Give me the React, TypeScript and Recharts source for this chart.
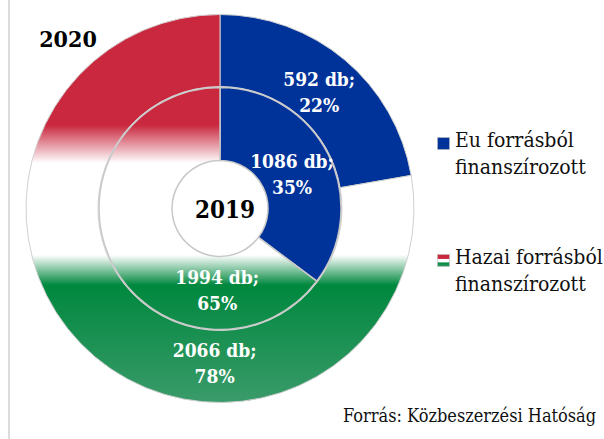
import { PieChart, Pie, Cell, Legend } from "recharts";

// Közbeszerzések finanszírozási forrás szerint (db), 2019 belső gyűrű, 2020 külső gyűrű
const CATEGORIES = ["Eu forrásból finanszírozott", "Hazai forrásból finanszírozott"];
const COUNTS_2019 = [1086, 1994];
const PCT_2019 = [35, 65];
const COUNTS_2020 = [592, 2066];
const PCT_2020 = [22, 78];

const W = 604;
const H = 439;
const CX = 220;
const CY = 208.5;
const R_OUT = 194;

const BLUE = "#003399";
const FONT = "DejaVu Serif Condensed, DejaVu Serif, serif";
const TXT = { fontFamily: FONT, fontStretch: "condensed" as const };

// The domestic slices sit low on the ring; their labels are pulled to 6 o'clock.
const LABEL_ANGLE_OVERRIDE: Record<number, number> = { 1: -92 };

const rows2019 = CATEGORIES.map((name, i) => ({ name, value: COUNTS_2019[i], pct: PCT_2019[i] }));
const rows2020 = CATEGORIES.map((name, i) => ({ name, value: COUNTS_2020[i], pct: PCT_2020[i] }));

const RAD = Math.PI / 180;

function renderLabel(props: any) {
  const { cx, cy, innerRadius, outerRadius, midAngle, index, payload } = props;
  const angle = LABEL_ANGLE_OVERRIDE[index] ?? midAngle;
  const r = (innerRadius + outerRadius) / 2 - 4;
  const x = cx + r * Math.cos(angle * RAD);
  const y = cy - r * Math.sin(angle * RAD);
  return (
    <text x={x} y={y} fill="#fff" textAnchor="middle" style={{ ...TXT, fontWeight: "bold", fontSize: 19 }}>
      <tspan x={x} dy={-5}>{`${payload.value} db;`}</tspan>
      <tspan x={x} dy={26}>{`${payload.pct}%`}</tspan>
    </text>
  );
}

function LegendContent() {
  const items = [
    { lines: ["Eu forrásból", "finanszírozott"], fill: BLUE, top: 127 },
    { lines: ["Hazai forrásból", "finanszírozott"], fill: "url(#huFlagSmall)", top: 244 },
  ];
  return (
    <div style={{ position: "relative", width: 170, height: 200 }}>
      {items.map((it) => (
        <div
          key={it.lines[0]}
          style={{ position: "absolute", left: 0, top: it.top - 120, ...TXT, fontSize: 21, lineHeight: "27px", color: "#111" }}
        >
          <svg width={13} height={13} style={{ position: "absolute", left: 0, top: 10 }}>
            <defs>
              <linearGradient id="huFlagSmall" x1="0" y1="0" x2="0" y2="1">
                <stop offset="0" stopColor="#C9283E" />
                <stop offset="0.33" stopColor="#C9283E" />
                <stop offset="0.4" stopColor="#ffffff" />
                <stop offset="0.62" stopColor="#ffffff" />
                <stop offset="0.7" stopColor="#00883E" />
                <stop offset="1" stopColor="#3A9B6A" />
              </linearGradient>
            </defs>
            <rect x={0.5} y={0.5} width={12} height={12} fill={it.fill} stroke="#bbb" strokeWidth={0.6} />
          </svg>
          <div style={{ marginLeft: 18, whiteSpace: "nowrap" }}>
            {it.lines[0]}
            <br />
            {it.lines[1]}
          </div>
        </div>
      ))}
    </div>
  );
}

export default function App() {
  const top = CY - R_OUT;
  const span = 2 * R_OUT;
  const off = (y: number) => (y - top) / span;
  return (
    <div style={{ position: "absolute", left: 0, top: 0, width: W, height: H, background: "#fff", overflow: "hidden" }}>
      <div style={{ position: "absolute", left: 8, top: 0, width: 2, height: H, background: "#dcdcdc" }} />
      <PieChart width={W} height={H} margin={{ top: 0, right: 0, bottom: 0, left: 0 }}>
        <defs>
          <linearGradient id="huFlag" gradientUnits="userSpaceOnUse" x1={0} y1={top} x2={0} y2={top + span}>
            <stop offset={0} stopColor="#C9283E" />
            <stop offset={off(125)} stopColor="#C9283E" />
            <stop offset={off(163)} stopColor="#ffffff" />
            <stop offset={off(255)} stopColor="#ffffff" />
            <stop offset={off(285)} stopColor="#00883E" />
            <stop offset={1} stopColor="#3A9B6A" />
          </linearGradient>
        </defs>
        <Pie
          data={rows2020}
          dataKey="value"
          cx={CX}
          cy={CY}
          innerRadius={122}
          outerRadius={R_OUT}
          startAngle={90}
          endAngle={-270}
          stroke="#d0d0d0"
          strokeWidth={1}
          labelLine={false}
          label={renderLabel}
          isAnimationActive={false}
        >
          <Cell fill={BLUE} />
          <Cell fill="url(#huFlag)" />
        </Pie>
        <Pie
          data={rows2019}
          dataKey="value"
          cx={CX}
          cy={CY}
          innerRadius={48}
          outerRadius={121}
          startAngle={90}
          endAngle={-270}
          stroke="#c8c8c8"
          strokeWidth={1.5}
          labelLine={false}
          label={renderLabel}
          isAnimationActive={false}
        >
          <Cell fill={BLUE} />
          <Cell fill="url(#huFlag)" />
        </Pie>
        <text x={CX + 5} y={CY + 9} textAnchor="middle" style={{ ...TXT, fontWeight: "bold", fontSize: 24 }} fill="#000">
          2019
        </text>
        <text x={68} y={47} textAnchor="middle" style={{ ...TXT, fontWeight: "bold", fontSize: 23 }} fill="#000">
          2020
        </text>
        <Legend
          layout="vertical"
          verticalAlign="top"
          align="right"
          content={() => <LegendContent />}
          wrapperStyle={{ position: "absolute", left: 437, top: 120, width: 170 }}
        />
      </PieChart>
      <div style={{ position: "absolute", left: 343, top: 405, ...TXT, fontSize: 18, color: "#111", whiteSpace: "nowrap" }}>
        Forrás: Közbeszerzési Hatóság
      </div>
    </div>
  );
}
